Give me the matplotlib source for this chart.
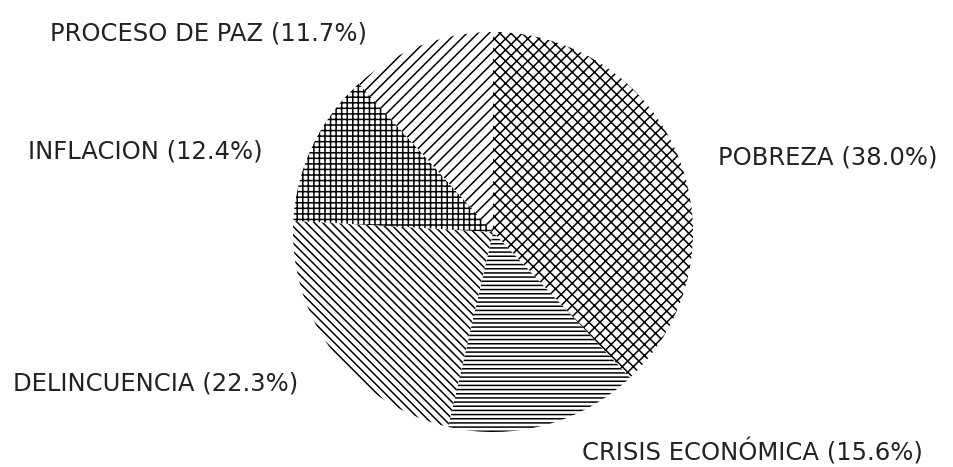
import matplotlib
matplotlib.use("Agg")
import matplotlib.pyplot as plt

# Data
categories = ["POBREZA", "CRISIS ECONÓMICA", "DELINCUENCIA", "INFLACION", "PROCESO DE PAZ"]
percentages = [38.0, 15.6, 22.3, 12.4, 11.7]
hatches = ["xxx", "----", "\\\\\\\\", "+++", "///"]

# label anchor positions in pixels (left x, center y from top)
label_pos = [(718, 157), (582, 452), (13, 383), (28, 152), (50, 33)]

W, H = 954, 467
DPI = 100
plt.rcParams["hatch.linewidth"] = 1.1

fig = plt.figure(figsize=(W / DPI, H / DPI), dpi=DPI)
fig.patch.set_facecolor("white")

cx, cy, r = 493, 232, 200
ax = fig.add_axes([(cx - r) / W, (H - cy - r) / H, 2 * r / W, 2 * r / H])
wedges, _ = ax.pie(percentages, startangle=90, counterclock=False, radius=1,
                   colors=["white"] * len(percentages))
for w, h in zip(wedges, hatches):
    w.set_hatch(h)
    w.set_edgecolor("black")
    w.set_linewidth(0)
    w.set_clip_on(False)
ax.set_xlim(-1, 1)
ax.set_ylim(-1, 1)
ax.set_aspect("equal")
ax.axis("off")

for name, pct, (x, y) in zip(categories, percentages, label_pos):
    fig.text(x / W, 1 - y / H, f"{name} ({pct:.1f}%)", ha="left", va="center",
             fontsize=17.5, family="DejaVu Sans", color="#222222")

fig.savefig("out.png", dpi=DPI, facecolor="white")
